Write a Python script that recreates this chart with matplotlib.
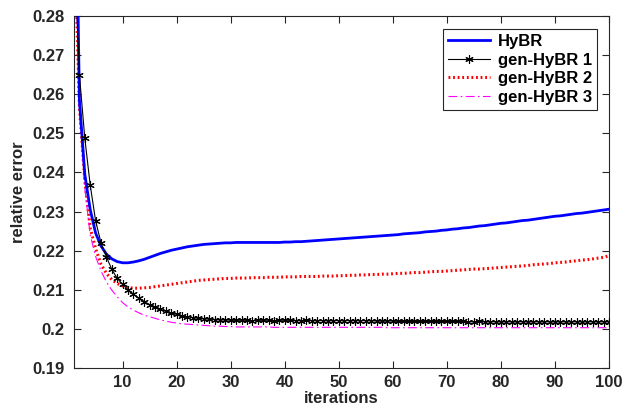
import matplotlib
matplotlib.use("Agg")
import matplotlib.pyplot as plt

iterations = list(range(1, 101))

hybr = [0.350, 0.2585, 0.2395, 0.2305, 0.2245, 0.2212, 0.2191, 0.2179, 0.2172, 0.2169,
        0.2169, 0.2171, 0.2174, 0.2178, 0.2183, 0.2188, 0.2193, 0.2197, 0.2201, 0.2204,
        0.2207, 0.2210, 0.2212, 0.2214, 0.2216, 0.2217, 0.2218, 0.2219, 0.2220, 0.2220,
        0.2221, 0.2221, 0.2221, 0.2221, 0.2221, 0.2221, 0.2221, 0.2221, 0.2221, 0.2222,
        0.2222, 0.2223, 0.2223, 0.2224, 0.2225, 0.2226, 0.2227, 0.2228, 0.2229, 0.2230,
        0.2231, 0.2232, 0.2233, 0.2234, 0.2235, 0.2236, 0.2237, 0.2238, 0.2239, 0.2240,
        0.2241, 0.2243, 0.2244, 0.2245, 0.2246, 0.2248, 0.2249, 0.2250, 0.2252, 0.2253,
        0.2255, 0.2256, 0.2258, 0.2259, 0.2261, 0.2263, 0.2264, 0.2266, 0.2268, 0.2270,
        0.2271, 0.2273, 0.2275, 0.2277, 0.2278, 0.2280, 0.2282, 0.2284, 0.2286, 0.2288,
        0.2289, 0.2291, 0.2293, 0.2295, 0.2296, 0.2298, 0.2300, 0.2302, 0.2304, 0.2306]

gen_hybr1 = [0.300, 0.2650, 0.2487, 0.2368, 0.2276, 0.2220, 0.2184, 0.2152, 0.2129, 0.2114,
             0.2100, 0.2088, 0.2078, 0.2070, 0.2062, 0.2056, 0.2050, 0.2045, 0.2041, 0.2037,
             0.2034, 0.2031, 0.2029, 0.2027, 0.2026, 0.2025, 0.2024, 0.2023, 0.2023, 0.2022,
             0.2022, 0.2022, 0.2022, 0.2021, 0.2022, 0.2022, 0.2022, 0.2021, 0.2022, 0.2022,
             0.2022, 0.2021, 0.2021, 0.2022, 0.2021, 0.2021, 0.2021, 0.2021, 0.2021, 0.2021,
             0.2021, 0.2021, 0.2021, 0.2021, 0.2021, 0.2021, 0.2020, 0.2020, 0.2020, 0.2020,
             0.2019, 0.2019, 0.2019, 0.2019, 0.2019, 0.2019, 0.2019, 0.2019, 0.2019, 0.2019,
             0.2019, 0.2019, 0.2019, 0.2018, 0.2018, 0.2019, 0.2018, 0.2018, 0.2018, 0.2018,
             0.2018, 0.2018, 0.2018, 0.2018, 0.2018, 0.2018, 0.2018, 0.2018, 0.2018, 0.2018,
             0.2018, 0.2018, 0.2018, 0.2018, 0.2018, 0.2018, 0.2018, 0.2018, 0.2018, 0.2018]

gen_hybr2 = [0.305, 0.2570, 0.2380, 0.2258, 0.2205, 0.2165, 0.2142, 0.2126, 0.2116, 0.2110,
             0.2106, 0.2104, 0.2104, 0.2105, 0.2106, 0.2108, 0.2110, 0.2112, 0.2114, 0.2116,
             0.2118, 0.2120, 0.2122, 0.2124, 0.2125, 0.2126, 0.2127, 0.2128, 0.2129, 0.2129,
             0.2130, 0.2130, 0.2130, 0.2131, 0.2131, 0.2131, 0.2132, 0.2132, 0.2132, 0.2133,
             0.2133, 0.2133, 0.2134, 0.2134, 0.2134, 0.2134, 0.2135, 0.2135, 0.2135, 0.2136,
             0.2136, 0.2137, 0.2137, 0.2138, 0.2138, 0.2139, 0.2139, 0.2140, 0.2140, 0.2141,
             0.2142, 0.2142, 0.2143, 0.2144, 0.2144, 0.2145, 0.2146, 0.2147, 0.2147, 0.2148,
             0.2149, 0.2150, 0.2151, 0.2152, 0.2153, 0.2153, 0.2154, 0.2155, 0.2156, 0.2157,
             0.2158, 0.2159, 0.2160, 0.2161, 0.2162, 0.2164, 0.2165, 0.2166, 0.2167, 0.2169,
             0.2170, 0.2171, 0.2173, 0.2174, 0.2176, 0.2177, 0.2179, 0.2181, 0.2183, 0.2187]

gen_hybr3 = [0.310, 0.2565, 0.2360, 0.2240, 0.2185, 0.2148, 0.2120, 0.2099, 0.2082, 0.2067,
             0.2056, 0.2048, 0.2041, 0.2035, 0.2031, 0.2027, 0.2023, 0.2020, 0.2017, 0.2015,
             0.2013, 0.2012, 0.2011, 0.2010, 0.2009, 0.2008, 0.2007, 0.2007, 0.2006, 0.2006,
             0.2005, 0.2005, 0.2005, 0.2005, 0.2005, 0.2005, 0.2005, 0.2004, 0.2004, 0.2004,
             0.2004, 0.2004, 0.2004, 0.2004, 0.2004, 0.2004, 0.2004, 0.2004, 0.2004, 0.2004,
             0.2004, 0.2004, 0.2004, 0.2004, 0.2004, 0.2004, 0.2004, 0.2004, 0.2003, 0.2003,
             0.2003, 0.2003, 0.2003, 0.2003, 0.2003, 0.2003, 0.2003, 0.2003, 0.2003, 0.2003,
             0.2003, 0.2003, 0.2003, 0.2003, 0.2003, 0.2003, 0.2003, 0.2003, 0.2003, 0.2003,
             0.2003, 0.2003, 0.2003, 0.2003, 0.2003, 0.2003, 0.2003, 0.2003, 0.2003, 0.2003,
             0.2003, 0.2003, 0.2003, 0.2003, 0.2003, 0.2003, 0.2003, 0.2003, 0.2003, 0.2003]

series_names = ["HyBR", "gen-HyBR 1", "gen-HyBR 2", "gen-HyBR 3"]
x_ticks = [10, 20, 30, 40, 50, 60, 70, 80, 90, 100]
y_ticks = [0.19, 0.2, 0.21, 0.22, 0.23, 0.24, 0.25, 0.26, 0.27, 0.28]
y_tick_labels = ["0.19", "0.2", "0.21", "0.22", "0.23", "0.24", "0.25", "0.26", "0.27", "0.28"]

plt.rcParams['font.family'] = ['Liberation Sans', 'DejaVu Sans']
plt.rcParams['font.weight'] = 'bold'

FS = 12

fig = plt.figure(figsize=(6.26, 4.13), dpi=100)
ax = fig.add_axes([74/626, 1-368/413, (609-74)/626, (368-16)/413])

ax.plot(iterations, hybr, color='#0000ff', lw=2.0, label=series_names[0], zorder=3)
ax.plot(iterations, gen_hybr2, color='#ff0000', lw=2.2, linestyle=(0, (0.6, 0.9)),
        label=series_names[2], zorder=2)
ax.plot(iterations, gen_hybr3, color='#ff00ff', lw=0.8, linestyle=(0, (8, 3, 1.5, 3)),
        label=series_names[3], zorder=2)
ax.plot(iterations, gen_hybr1, color='black', lw=0.8, marker=(6, 2, 0), markersize=6,
        markeredgewidth=0.8, label=series_names[1], zorder=4)

ax.set_xlim(1, 100)
ax.set_ylim(0.19, 0.28)
ax.set_xticks(x_ticks)
ax.set_yticks(y_ticks)
ax.set_yticklabels(y_tick_labels)

gray = '#262626'
for s in ax.spines.values():
    s.set_color(gray)
    s.set_linewidth(0.8)
ax.tick_params(direction='in', top=True, right=True, length=5, width=0.8,
               colors=gray, labelsize=FS)
ax.tick_params(axis='y', pad=7)
ax.tick_params(axis='x', pad=5)
for lab in ax.get_xticklabels() + ax.get_yticklabels():
    lab.set_fontweight('bold')
    lab.set_color(gray)

ax.set_xlabel('iterations', fontsize=FS, fontweight='bold', color=gray, labelpad=0.5)
ax.set_ylabel('relative error', fontsize=FS, fontweight='bold', color=gray, labelpad=4)

handles, labels = ax.get_legend_handles_labels()
order = [labels.index(n) for n in series_names]
leg = ax.legend([handles[i] for i in order], [labels[i] for i in order],
                loc='upper right', bbox_to_anchor=(1 - 12/535, 1 - 13/352),
                frameon=True, fancybox=False, edgecolor=gray, framealpha=1,
                prop={'weight': 'bold', 'size': FS},
                handlelength=2.5, handletextpad=0.5, labelspacing=0.22,
                borderpad=0.3, borderaxespad=0)
leg.get_frame().set_linewidth(0.8)

fig.savefig('out.png', dpi=100)
